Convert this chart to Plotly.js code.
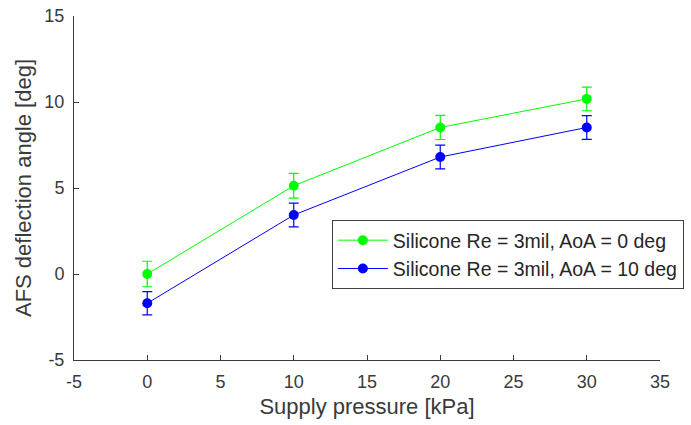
<!DOCTYPE html>
<html><head><meta charset="utf-8">
<script src="https://cdn.plot.ly/plotly-3.0.1.min.js"></script>
<style>body{margin:0;background:#fff}#c{width:691px;height:425px}</style>
</head><body><div id="c"></div>
<script>
const pressure = [0, 10, 20, 30];
const aoa0 = [0.0, 5.13, 8.52, 10.18];
const aoa0Err = [0.74, 0.72, 0.70, 0.69];
const aoa10 = [-1.70, 3.43, 6.80, 8.52];
const aoa10Err = [0.68, 0.69, 0.69, 0.69];
const names = ['Silicone Re = 3mil, AoA = 0 deg', 'Silicone Re = 3mil, AoA = 10 deg'];
const xTicks = [-5, 0, 5, 10, 15, 20, 25, 30, 35];
const xTickText = ['-5', '0', '5', '10', '15', '20', '25', '30', '35'];
const yTicks = [-5, 0, 5, 10, 15];
const yTickText = ['-5', '0', '5', '10', '15'];

const axColor = '#3a3a3a';
const fam = 'Liberation Sans, Arial, sans-serif';

function tr(y, e, name, color) {
  return {
    x: pressure, y: y, name: name, type: 'scatter', mode: 'lines+markers',
    line: {color: color, width: 1},
    marker: {color: color, size: 10},
    error_y: {type: 'data', array: e, visible: true, color: color, thickness: 1.2, width: 5}
  };
}

const data = [tr(aoa0, aoa0Err, names[0], '#00ff00'), tr(aoa10, aoa10Err, names[1], '#0000ff')];

const layout = {
  width: 691, height: 425,
  margin: {l: 74, r: 31, t: 16, b: 65, autoexpand: false},
  paper_bgcolor: '#fff', plot_bgcolor: '#fff',
  font: {family: fam, color: axColor},
  showlegend: true,
  xaxis: {
    range: [-5, 35], tickvals: xTicks, ticktext: xTickText, ticks: 'inside', ticklen: 5,
    ticklabelstandoff: 5,
    tickcolor: axColor, showline: true, linecolor: axColor, linewidth: 1,
    showgrid: false, zeroline: false, tickfont: {size: 18, color: axColor},
    title: {text: 'Supply pressure [kPa]', font: {size: 22, color: axColor}, standoff: 8}
  },
  yaxis: {
    range: [-5, 15], tickvals: yTicks, ticktext: yTickText, ticks: 'inside', ticklen: 5,
    ticklabelstandoff: 5,
    tickcolor: axColor, showline: true, linecolor: axColor, linewidth: 1,
    showgrid: false, zeroline: false, tickfont: {size: 18, color: axColor},
    title: {text: 'AFS deflection angle [deg]', font: {size: 22, color: axColor}, standoff: 6}
  },
  legend: {
    x: 0.44, y: 0.407, xanchor: 'left', yanchor: 'top',
    bgcolor: '#fff', bordercolor: '#404040', borderwidth: 1,
    font: {size: 19.5, color: '#262626', family: fam},
    tracegroupgap: 0, itemwidth: 50
  }
};

Plotly.newPlot('c', data, layout, {displayModeBar: false, staticPlot: true});
</script>
</body></html>
